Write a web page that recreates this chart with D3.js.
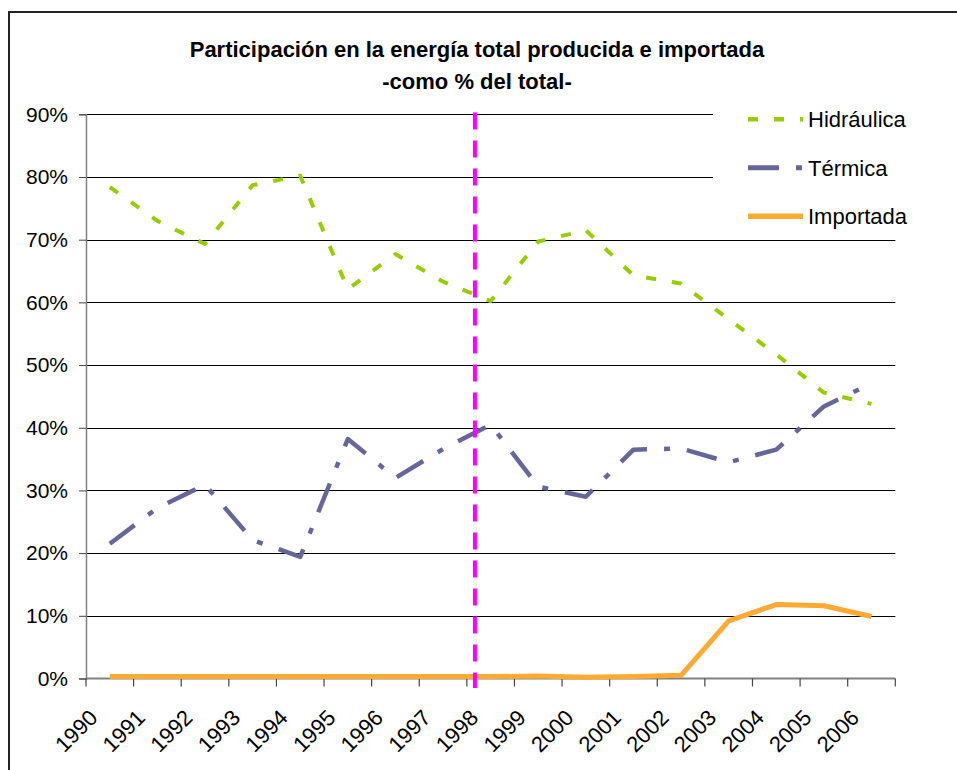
<!DOCTYPE html>
<html>
<head>
<meta charset="utf-8">
<script src="https://cdn.jsdelivr.net/npm/d3@7"></script>
<style>
  body { margin: 0; background: #fff; }
  svg { display: block; font-family: "Liberation Sans", Arial, sans-serif; }
</style>
</head>
<body>
<svg id="chart" width="957" height="770"></svg>
<script>
// categories and series (share of total, 0..1)
const years = ["1990","1991","1992","1993","1994","1995","1996","1997","1998",
               "1999","2000","2001","2002","2003","2004","2005","2006"];
const hidraulica = [0.784,0.730,0.693,0.787,0.802,0.621,0.677,0.633,0.602,
                    0.697,0.715,0.643,0.630,0.573,0.517,0.456,0.438];
const termica = [0.215,0.272,0.309,0.221,0.194,0.382,0.320,0.366,0.405,
                 0.306,0.290,0.365,0.367,0.345,0.365,0.434,0.471];
const importada = [0.003,0.003,0.003,0.003,0.003,0.003,0.003,0.003,0.003,
                   0.004,0.002,0.003,0.005,0.092,0.118,0.116,0.099];
const yTicks = [0,0.1,0.2,0.3,0.4,0.5,0.6,0.7,0.8,0.9];
const titleLines = ["Participación en la energía total producida e importada", "-como % del total-"];

// vertical divider sits a little past the start of the 1998 band
const dividerYear = "1998";
const dividerShift = 0.17;

const series = [
  { name: "Hidráulica", values: hidraulica, color: "#99CC00", width: 4,   dash: "10,16" },
  { name: "Térmica",    values: termica,    color: "#666699", width: 4.5, dash: "31,17,6,17" },
  { name: "Importada",  values: importada,  color: "#FFAA33", width: 5,   dash: null }
];

const svg = d3.select("#chart");
const plotLeft = 86, plotRight = 895.3, plotTop = 114.3, plotBottom = 678.5;

const x = d3.scaleBand().domain(years).range([plotLeft, plotRight]).padding(0);
const y = d3.scaleLinear().domain([0, 0.9]).range([plotBottom, plotTop]);
const cx = d => x(d) + x.bandwidth() / 2;

// outer frame
svg.append("path")
  .attr("d", `M9,770V12H957`)
  .attr("fill", "none")
  .attr("stroke", "#222")
  .attr("stroke-width", 2);

// title
svg.append("g").selectAll("text")
  .data(titleLines)
  .enter().append("text")
  .attr("x", 477)
  .attr("y", (d, i) => 57 + i * 32)
  .attr("text-anchor", "middle")
  .attr("font-size", 22)
  .attr("font-weight", "bold")
  .attr("fill", "#000")
  .text(d => d);

// gridlines
svg.append("g").selectAll("line")
  .data(yTicks.slice(1))
  .enter().append("line")
  .attr("x1", plotLeft).attr("x2", plotRight)
  .attr("y1", d => Math.round(y(d)) + 0.5)
  .attr("y2", d => Math.round(y(d)) + 0.5)
  .attr("stroke", "#000")
  .attr("stroke-width", 1.2);

// y axis
const yAxis = svg.append("g")
  .attr("transform", `translate(${plotLeft},0)`)
  .call(d3.axisLeft(y).tickValues(yTicks).tickFormat(d3.format(".0%")).tickSize(7).tickPadding(11));
yAxis.select(".domain").attr("stroke", "#808080").attr("stroke-width", 1.5);
yAxis.selectAll(".tick line").attr("stroke", "#444");
yAxis.selectAll("text").attr("font-size", 21).attr("fill", "#000")
  .attr("font-family", "Liberation Sans, Arial, sans-serif");

// x axis: ticks at band boundaries
const xAxis = svg.append("g");
xAxis.append("line")
  .attr("x1", plotLeft).attr("x2", plotRight)
  .attr("y1", plotBottom).attr("y2", plotBottom)
  .attr("stroke", "#808080").attr("stroke-width", 2);
const bounds = years.map(d => x(d)).concat([plotRight]);
xAxis.selectAll("line.tick")
  .data(bounds)
  .enter().append("line")
  .attr("class", "tick")
  .attr("x1", d => d).attr("x2", d => d)
  .attr("y1", plotBottom).attr("y2", plotBottom + 8)
  .attr("stroke", "#444").attr("stroke-width", 1.2);
xAxis.selectAll("text")
  .data(years)
  .enter().append("text")
  .attr("transform", d => `translate(${cx(d) - 11},719) rotate(-45)`)
  .attr("text-anchor", "end")
  .attr("font-size", 22)
  .attr("fill", "#000")
  .text(d => d);

// series lines
const line = d3.line()
  .x((d, i) => cx(years[i]))
  .y(d => y(d));

svg.append("g").selectAll("path")
  .data(series)
  .enter().append("path")
  .attr("d", d => line(d.values))
  .attr("fill", "none")
  .attr("stroke", d => d.color)
  .attr("stroke-width", d => d.width)
  .attr("stroke-dasharray", d => d.dash)
  .attr("stroke-linejoin", "round");

// magenta divider
const dx = x(dividerYear) + x.bandwidth() * dividerShift;
svg.append("line")
  .attr("x1", dx).attr("x2", dx)
  .attr("y1", y(0.903)).attr("y2", y(-0.015))
  .attr("stroke", "#FF00FF")
  .attr("stroke-width", 4)
  .attr("stroke-dasharray", "17,11");

// legend
const legend = svg.append("g");
legend.append("rect")
  .attr("x", 713).attr("y", 98)
  .attr("width", 195).attr("height", 139)
  .attr("fill", "#fff");
const item = legend.selectAll("g.item")
  .data(series)
  .enter().append("g")
  .attr("class", "item")
  .attr("transform", (d, i) => `translate(748,${119.3 + i * 48.5})`);
item.append("line")
  .attr("x1", 0).attr("x2", 55)
  .attr("stroke", d => d.color)
  .attr("stroke-width", d => d.width + 0.5)
  .attr("stroke-dasharray", d => d.dash);
item.append("text")
  .attr("x", 60)
  .attr("y", 8)
  .attr("font-size", 22)
  .attr("fill", "#000")
  .text(d => d.name);
</script>
</body>
</html>
